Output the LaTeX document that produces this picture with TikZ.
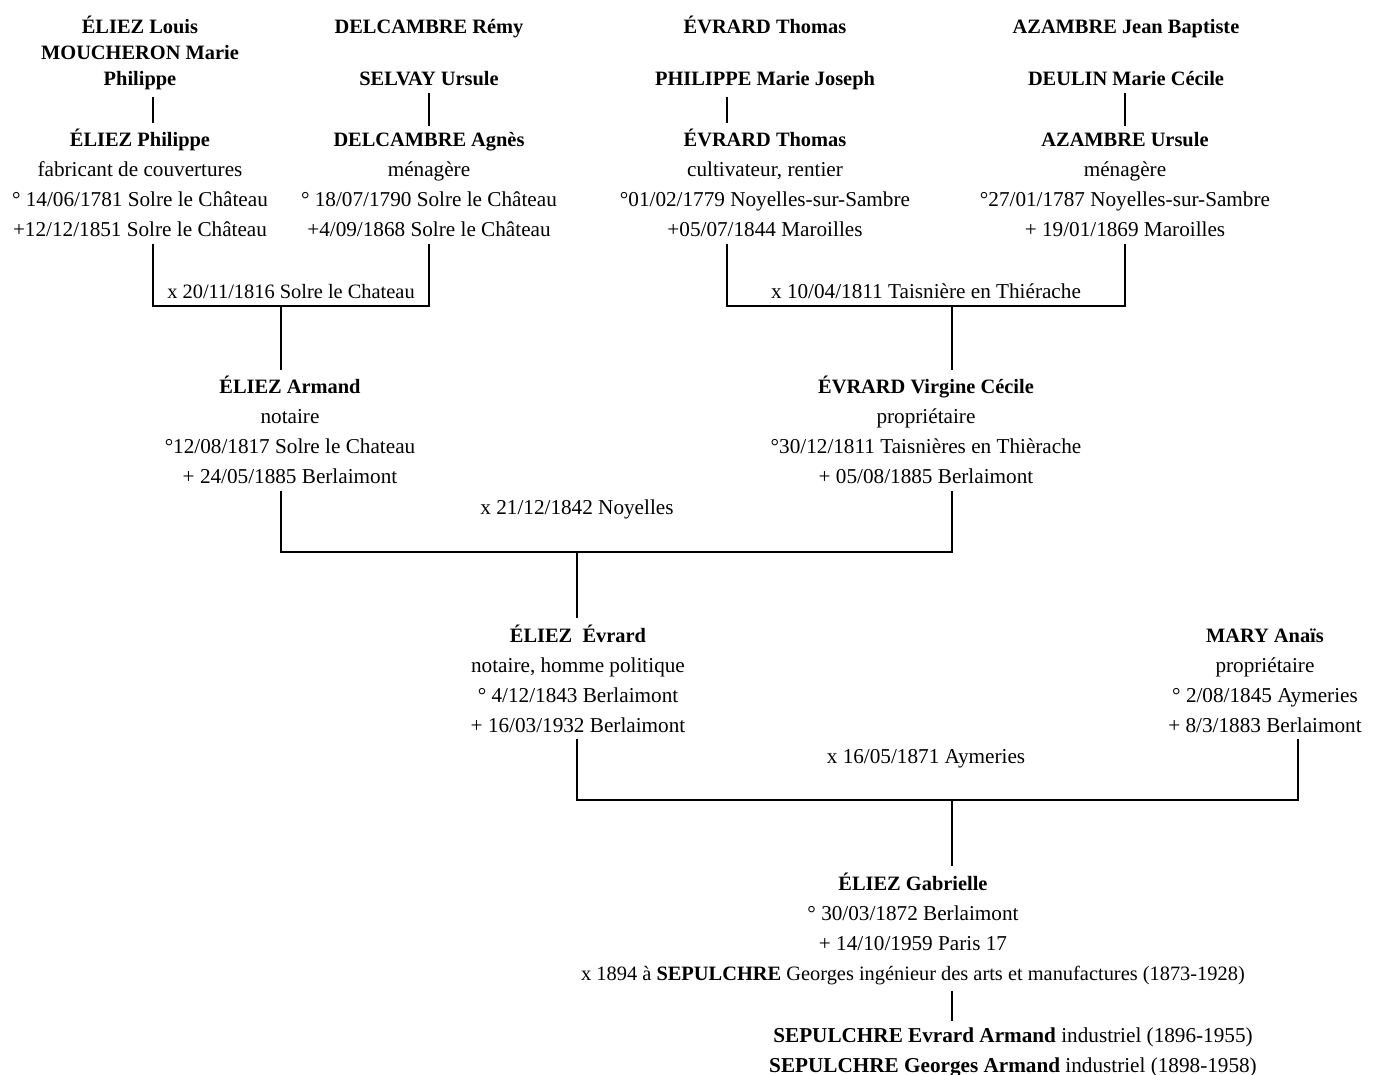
\documentclass[tikz,border=0pt]{standalone}
\usepackage{fontspec}
\setmainfont{Liberation Serif}
\usepackage{tikz}
\usetikzlibrary{positioning}
\newcommand\who[1]{{\fontsize{10.2}{15}\selectfont\bfseries #1}}
\tikzset{person/.style={align=center,inner sep=3pt,anchor=base,
font=\fontsize{10.6}{15}\selectfont}}
\tikzset{parents/.style={align=center,inner sep=3pt,anchor=base,
font=\fontsize{10.2}{13}\selectfont\bfseries}}
\tikzset{wedding/.style={inner sep=1pt,anchor=base,font=\fontsize{10.6}{15}\selectfont}}
\tikzset{link/.style={line width=0.7pt}}

\begin{document}
\begin{tikzpicture}[x=0.5pt,y=-0.5pt]
        \useasboundingbox (0,0) rectangle (1378,1075);

        % generation 0
        \node[parents] (louis) at (140,86) {ÉLIEZ Louis\\MOUCHERON Marie\\Philippe};
        \node[parents] (remy) at (429,86) {DELCAMBRE Rémy\\[13pt]SELVAY Ursule};
        \node[parents] (thomasA) at (765,86) {ÉVRARD Thomas\\[13pt]PHILIPPE Marie Joseph};
        \node[parents] (baptiste) at (1126,86) {AZAMBRE Jean Baptiste\\[13pt]DEULIN Marie Cécile};

        % generation 1
        \node[person] (philippe) at (140,237) {\who{ÉLIEZ Philippe}\\fabricant de couvertures\\° 14/06/1781 Solre le Château\\+12/12/1851 Solre le Château};
        \node[person] (agnes) at (429,237) {\who{DELCAMBRE Agnès}\\ménagère\\° 18/07/1790 Solre le Château\\+4/09/1868 Solre le Château};
        \node[person] (thomasB) at (765,237) {\who{ÉVRARD Thomas}\\cultivateur, rentier\\°01/02/1779 Noyelles-sur-Sambre\\+05/07/1844 Maroilles};
        \node[person] (ursule) at (1125,237) {\who{AZAMBRE Ursule}\\ménagère\\°27/01/1787 Noyelles-sur-Sambre\\+ 19/01/1869 Maroilles};

        % generation 2
        \node[person] (armand) at (290,484) {\who{ÉLIEZ Armand}\\notaire\\°12/08/1817 Solre le Chateau\\+ 24/05/1885 Berlaimont};
        \node[person] (virginie) at (926,484) {\who{ÉVRARD Virgine Cécile}\\propriétaire\\°30/12/1811 Taisnières en Thièrache\\+ 05/08/1885 Berlaimont};

        % generation 3
        \node[person] (evrard) at (578,732) {\who{ÉLIEZ~ Évrard}\\notaire, homme politique\\° 4/12/1843 Berlaimont\\+ 16/03/1932 Berlaimont};
        \node[person] (anais) at (1265,732) {\who{MARY Anaïs}\\propriétaire\\° 2/08/1845 Aymeries\\+ 8/3/1883 Berlaimont};

        % generation 4
        \node[person] (gabrielle) at (913,980) {\who{ÉLIEZ Gabrielle}\\° 30/03/1872 Berlaimont\\+ 14/10/1959 Paris 17\\{\fontsize{10.2}{15}\selectfont x 1894 à \textbf{SEPULCHRE} Georges ingénieur des arts et manufactures (1873-1928)}};
        \node[person] (children) at (1013,1072) {\textbf{SEPULCHRE Evrard Armand} industriel (1896-1955)\\\textbf{SEPULCHRE Georges Armand} industriel (1898-1958)};

        % marriages
        \node[wedding] (wed1) at (291,299) {\fontsize{10.2}{15}\selectfont x 20/11/1816 Solre le Chateau};
        \node[wedding] (wed2) at (926,299) {x 10/04/1811 Taisnière en Thiérache};
        \node[wedding] (wed3) at (577,515) {x 21/12/1842 Noyelles};
        \node[wedding] (wed4) at (926,763) {x 16/05/1871 Aymeries};

        \coordinate (bar1) at (281,306);
        \coordinate (bar2) at (952,306);
        \coordinate (bar3) at (577,552);
        \coordinate (bar4) at (952,800);

        % filiations
        \draw[link] ([xshift=6.5pt]louis.south) -- ([xshift=6.5pt]philippe.north);
        \draw[link] (remy.south) -- (agnes.north);
        \draw[link] ([xshift=-19pt]thomasA.south) -- ([xshift=-19pt]thomasB.north);
        \draw[link] ([xshift=-0.5pt]baptiste.south) -- (ursule.north);

        \draw[link] ([xshift=6.5pt]philippe.south) |- (bar1) -| (agnes.south);
        \draw[link] (bar1) -- (armand.north -| bar1);
        \draw[link] ([xshift=-19pt]thomasB.south) |- (bar2) -| (ursule.south);
        \draw[link] (bar2) -- (virginie.north -| bar2);

        \draw[link] (armand.south -| bar1) |- (bar3) -| (virginie.south -| bar2);
        \draw[link] (bar3) -- (evrard.north -| bar3);

        \draw[link] (evrard.south -| bar3) |- (bar4) -| ([xshift=16.5pt]anais.south);
        \draw[link] (bar4) -- (gabrielle.north -| bar4);
        \draw[link] (gabrielle.south -| bar4) -- (children.north -| bar4);

\end{tikzpicture}
\end{document}
